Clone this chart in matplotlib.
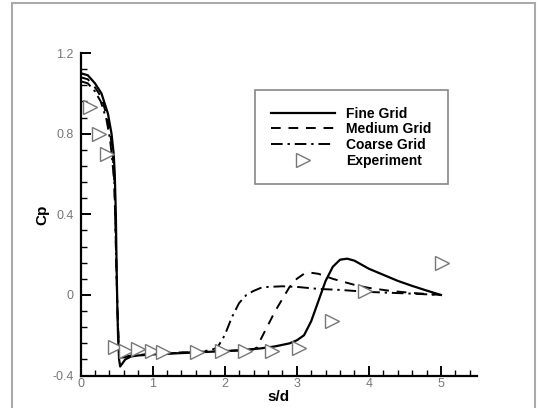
import matplotlib
matplotlib.use('Agg')
from matplotlib import pyplot as plt
from matplotlib.patches import Rectangle
from matplotlib.ticker import MultipleLocator

plt.rcParams['font.family'] = ['Liberation Sans', 'DejaVu Sans']

# Fine grid (solid)
fine_x = [0, 0.1, 0.2, 0.29, 0.38, 0.43, 0.46, 0.475, 0.49, 0.5, 0.51, 0.52, 0.535, 0.55, 0.58,
          0.62, 0.7, 0.8, 1.0, 1.3, 1.6, 1.9, 2.2, 2.5, 2.7, 2.9, 3.0, 3.1, 3.2, 3.3, 3.4,
          3.5, 3.6, 3.7, 3.8, 4.0, 4.2, 4.4, 4.6, 4.8, 5.0]
fine_y = [1.10, 1.09, 1.05, 1.00, 0.90, 0.80, 0.70, 0.60, 0.40, 0.15, -0.05, -0.20, -0.32, -0.355, -0.34,
          -0.32, -0.305, -0.30, -0.295, -0.29, -0.285, -0.28, -0.275, -0.265, -0.255, -0.24, -0.225, -0.20,
          -0.13, -0.03, 0.07, 0.14, 0.175, 0.18, 0.17, 0.13, 0.10, 0.07, 0.045, 0.022, 0.0]

# Medium grid (dashed)
med_x = [0, 0.1, 0.2, 0.29, 0.37, 0.42, 0.45, 0.47, 0.49, 0.51, 0.53, 0.56, 0.6, 0.7, 0.8, 1.0,
         1.4, 1.8, 2.2, 2.4, 2.45, 2.5, 2.6, 2.7, 2.8, 2.9, 3.0, 3.1, 3.2, 3.3, 3.5, 3.8, 4.0,
         4.3, 4.6, 5.0]
med_y = [1.08, 1.07, 1.03, 0.98, 0.88, 0.78, 0.68, 0.55, 0.25, -0.05, -0.25, -0.31, -0.31, -0.30,
         -0.30, -0.29, -0.285, -0.28, -0.275, -0.27, -0.26, -0.22, -0.15, -0.08, -0.02, 0.04, 0.08,
         0.105, 0.11, 0.105, 0.08, 0.05, 0.035, 0.02, 0.01, 0.0]

# Coarse grid (dash-dot)
coarse_x = [0, 0.1, 0.2, 0.28, 0.36, 0.41, 0.44, 0.47, 0.49, 0.51, 0.53, 0.56, 0.6, 0.7, 0.9, 1.2,
            1.5, 1.8, 1.9, 2.0, 2.1, 2.2, 2.3, 2.4, 2.5, 2.6, 2.8, 3.0, 3.3, 3.6, 4.0, 4.5, 5.0]
coarse_y = [1.06, 1.05, 1.01, 0.96, 0.87, 0.77, 0.67, 0.55, 0.25, -0.05, -0.25, -0.31, -0.31, -0.30,
            -0.295, -0.29, -0.285, -0.275, -0.26, -0.20, -0.11, -0.04, 0.0, 0.02, 0.035, 0.04, 0.043,
            0.04, 0.03, 0.025, 0.015, 0.008, 0.0]

# Experiment
exp_x = [0.13, 0.26, 0.37, 0.48, 0.63, 0.80, 0.99, 1.14, 1.62, 1.96, 2.28, 2.66, 3.03, 3.49, 3.94, 5.02]
exp_y = [0.93, 0.80, 0.70, -0.26, -0.28, -0.27, -0.28, -0.285, -0.285, -0.28, -0.28, -0.28, -0.265,
         -0.13, 0.022, 0.16]

yticks = [-0.4, 0, 0.4, 0.8, 1.2]
ytick_labels = ['-0.4', '0', '0.4', '0.8', '1.2']
xticks = [0, 1, 2, 3, 4, 5]
xtick_labels = ['0', '1', '2', '3', '4', '5']

fig = plt.figure(figsize=(5.39, 4.08), dpi=100)
fig.patches.append(Rectangle((12 / 539, -0.05), 523 / 539, 1.05 - 3 / 408, transform=fig.transFigure,
                             fill=False, edgecolor='#aaaaaa', linewidth=1.5))
ax = fig.add_axes([0.1494, 0.0794, 0.7356, 0.7906])

ax.plot(fine_x, fine_y, color='black', lw=1.6, label='Fine Grid')
ax.plot(med_x, med_y, color='black', lw=1.4, dashes=(5, 4), label='Medium Grid')
ax.plot(coarse_x, coarse_y, color='black', lw=1.4, dashes=(6, 2.5, 1.2, 2.5), label='Coarse Grid')
ax.plot(exp_x, exp_y, ls='none', marker='>', ms=9.5, mfc='white', mec='#777777', mew=1.0,
        label='Experiment')

ax.set_xlim(0, 5.5)
ax.set_ylim(-0.4, 1.2)
ax.spines['top'].set_visible(False)
ax.spines['right'].set_visible(False)
ax.spines['left'].set_linewidth(1.6)
ax.spines['bottom'].set_linewidth(1.6)
ax.set_xticks(xticks)
ax.set_xticklabels(xtick_labels)
ax.set_yticks(yticks)
ax.set_yticklabels(ytick_labels)
ax.xaxis.set_minor_locator(MultipleLocator(0.2))
ax.yaxis.set_minor_locator(MultipleLocator(0.08))
ax.tick_params(which='major', direction='in', length=7, width=1.4, labelsize=9,
               labelcolor='#777777', color='black')
ax.tick_params(which='minor', direction='in', length=4, width=1.0, color='black')
ax.tick_params(axis='y', pad=5)
ax.tick_params(axis='x', pad=2)
ax.set_xlabel('s/d', fontsize=11, fontweight='bold', labelpad=0)
ax.set_ylabel('Cp', fontsize=11, fontweight='bold', labelpad=2)

leg = ax.legend(loc='upper left', bbox_to_anchor=(254.6 / 539, 1 - 90 / 408), bbox_transform=fig.transFigure,
                prop={'weight': 'bold', 'size': 10}, handlelength=4.6, handletextpad=0.8,
                labelspacing=0.12, borderpad=1.2, borderaxespad=0, fancybox=False, framealpha=1)
leg.get_frame().set_edgecolor('#888888')
leg.get_frame().set_linewidth(1.2)

fig.savefig('out.png', dpi=100)
